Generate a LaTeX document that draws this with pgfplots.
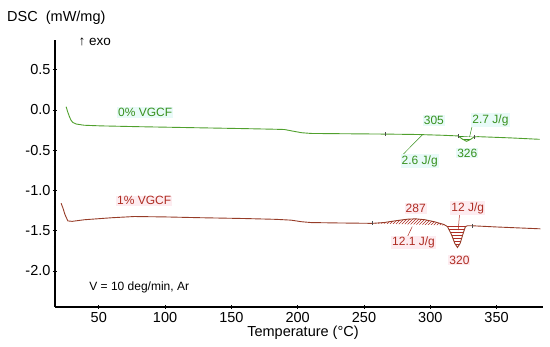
\documentclass[border=0pt]{standalone}
\usepackage{fontspec}
\setmainfont{Liberation Sans}
\usepackage{pgfplots}
\pgfplotsset{compat=1.18}
\usetikzlibrary{patterns}
\definecolor{gline}{RGB}{80,160,45}
\definecolor{gtext}{RGB}{55,145,30}
\definecolor{rline}{RGB}{150,60,40}
\definecolor{rtext}{RGB}{175,45,35}
\definecolor{gbg}{RGB}{232,250,248}
\definecolor{rbg}{RGB}{253,236,240}
\begin{document}
\begin{tikzpicture}
\useasboundingbox (0,0) rectangle (550pt,347pt);
\begin{axis}[
  at={(55pt,40pt)}, anchor=south west,
  scale only axis, width=488pt, height=267pt,
  xmin=17, xmax=385, ymin=-2.45, ymax=0.87,
  axis x line*=bottom, axis y line*=left,
  axis line style={line width=1.2pt, black},
  xtick={50,100,...,350}, minor x tick num=4,
  ytick={-2,-1.5,-1,-0.5,0,0.5}, minor y tick num=4,
  tick align=center, major tick length=4pt, minor tick length=2pt,
  tick style={black, line width=0.6pt},
  /pgf/number format/assume math mode=true,
  ticklabel style={font=\fontsize{14.5}{16}\selectfont},
  yticklabel style={/pgf/number format/fixed, /pgf/number format/fixed zerofill, /pgf/number format/precision=1, xshift=1pt},
  clip=false,
]
% hatched areas
\addplot[draw=none, pattern=north east lines, pattern color=rtext] coordinates {
(256.3,-1.41) (265,-1.40) (275,-1.375) (283,-1.358) (289,-1.354) (296,-1.365) (303,-1.39) (310.2,-1.424) (312,-1.435)} -- cycle;
\addplot[draw=none, pattern=horizontal lines, pattern color=rtext] coordinates {
(312,-1.435) (313,-1.45) (316,-1.55) (318.5,-1.66) (320.5,-1.71) (322.5,-1.66) (324.5,-1.55) (326.5,-1.45) (328,-1.44)} -- cycle;
\addplot[draw=none, pattern=horizontal lines, pattern color=gtext] coordinates {
(321,-0.323) (324,-0.36) (327.3,-0.39) (330,-0.37) (333,-0.335)} -- cycle;
% 0% VGCF
\addplot[gline, line width=0.9pt] coordinates {
(25.4,0.04) (26.5,-0.02) (27.8,-0.08) (29,-0.125) (30.4,-0.155) (33,-0.175) (38.9,-0.19) (51.7,-0.198) (80,-0.208) (120,-0.22) (160,-0.232) (183.5,-0.24) (190,-0.243) (196,-0.262) (203,-0.283) (210,-0.292) (230,-0.295) (266,-0.30) (290,-0.305) (310,-0.315) (321,-0.323) (324,-0.36) (327.3,-0.39) (330,-0.37) (333,-0.335) (336,-0.332) (360,-0.347) (382.5,-0.365)};
% 1% VGCF
\addplot[rline, line width=0.9pt] coordinates {
(21.6,-1.16) (23,-1.22) (24.5,-1.30) (26.7,-1.38) (30,-1.385) (39.2,-1.365) (60,-1.34) (76.8,-1.325) (100,-1.33) (127,-1.34) (160,-1.35) (183.5,-1.36) (195,-1.37) (203,-1.39) (210,-1.40) (230,-1.405) (256.3,-1.41) (265,-1.40) (275,-1.375) (283,-1.358) (289,-1.354) (296,-1.365) (303,-1.39) (310.2,-1.424) (313,-1.45) (316,-1.55) (318.5,-1.66) (320.5,-1.71) (322.5,-1.66) (324.5,-1.55) (326.5,-1.45) (328,-1.44) (331.6,-1.44) (350,-1.455) (383,-1.478)};
% integration limit marks
\addplot[only marks, mark=|, mark size=2pt, black!70, mark options={line width=0.6pt}] coordinates {(266,-0.30) (321,-0.323) (333,-0.335) (256.3,-1.41) (331.6,-1.44)};
% leader lines
\draw[gtext, line width=0.5pt] (axis cs:279,-0.56) -- (axis cs:294,-0.31);
\draw[gtext, line width=0.5pt] (axis cs:331.6,-0.20) -- (axis cs:329.6,-0.336);
\draw[rtext, line width=0.5pt] (axis cs:282.7,-1.578) -- (axis cs:286.4,-1.45);
\draw[rtext, line width=0.5pt] (axis cs:322.1,-1.283) -- (axis cs:321.1,-1.494);
% labels
\tikzset{lab/.style={font=\fontsize{12}{14}\selectfont, inner sep=1pt}}
\node[lab, text=gtext, fill=gbg] at (axis cs:85,-0.03) {0\% VGCF};
\node[lab, text=rtext, fill=rbg] at (axis cs:84.3,-1.13) {1\% VGCF};
\node[lab, text=gtext, fill=gbg] at (axis cs:302.7,-0.133) {305};
\node[lab, text=gtext, fill=gbg] at (axis cs:345.4,-0.125) {2.7 J/g};
\node[lab, text=gtext, fill=gbg] at (axis cs:327.9,-0.535) {326};
\node[lab, text=gtext, fill=gbg] at (axis cs:292,-0.635) {2.6 J/g};
\node[lab, text=rtext, fill=rbg] at (axis cs:289,-1.224) {287};
\node[lab, text=rtext, fill=rbg] at (axis cs:328.3,-1.22) {12 J/g};
\node[lab, text=rtext, fill=rbg] at (axis cs:287.4,-1.648) {12.1 J/g};
\node[lab, text=rtext, fill=rbg] at (axis cs:322,-1.868) {320};
\node[lab, anchor=west] at (axis cs:42,-2.21) {V = 10 deg/min, Ar};
\node[lab, anchor=west, font=\fontsize{13.5}{15}\selectfont] at (axis cs:34,0.85) {↑ exo};
\end{axis}
\node[anchor=base west, font=\fontsize{14.5}{16}\selectfont, inner sep=0pt] at (7pt,325.3pt) {DSC\ \ (mW/mg)};
\node[font=\fontsize{14.5}{16}\selectfont] at (303pt,14pt) {Temperature (°C)};
\end{tikzpicture}
\end{document}
